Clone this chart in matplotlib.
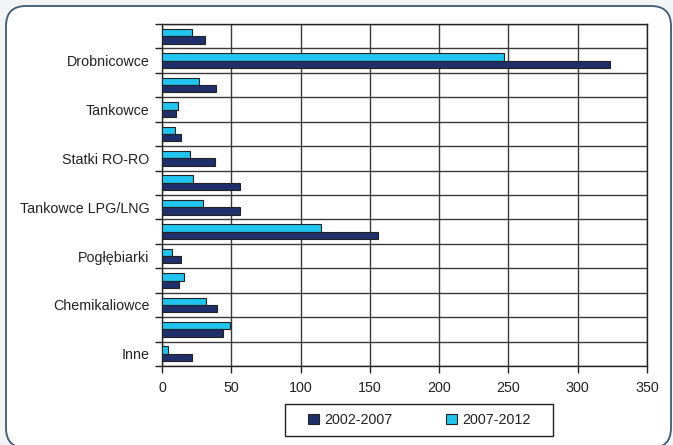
import numpy as np
import matplotlib
matplotlib.use("Agg")
import matplotlib.pyplot as plt
from matplotlib.patches import FancyBboxPatch, Patch, Rectangle
from matplotlib.transforms import IdentityTransform

plt.rcParams['font.family'] = ['Liberation Sans', 'DejaVu Sans']

# rows from top to bottom; only every other row carries a label
labels = ['', 'Drobnicowce', '', 'Tankowce', '', 'Statki RO-RO', '',
          'Tankowce LPG/LNG', '', 'Pogłębiarki', '', 'Chemikaliowce', '', 'Inne']
vals_2002_2007 = [31, 323, 39, 10, 14, 38, 56, 56, 156, 14, 12.5, 40, 44, 22]
vals_2007_2012 = [21.5, 247, 26.5, 11.5, 9.5, 20, 22.5, 29.5, 115, 7.5, 16, 32, 49, 4.5]
series_names = ['2002-2007', '2007-2012']
dark = '#1f2f6b'
light = '#1fc4ef'
txt = '#222222'

fig = plt.figure(figsize=(6.73, 4.45), dpi=100)
fig.patch.set_facecolor('#f2f4f5')

# rounded outer frame, in pixels
frame = FancyBboxPatch((6, -3), 665, 442, boxstyle="round,pad=0,rounding_size=20",
                       transform=IdentityTransform(), facecolor='white',
                       edgecolor='#3d5a73', linewidth=1.3, zorder=-5)
fig.patches.append(frame)

ax = fig.add_axes([0.2407, 0.1775, 0.7207, 0.7685])
ax.set_zorder(2)
ax.set_facecolor('white')

y = np.arange(len(labels))
h = 0.3
ax.barh(y - h / 2, vals_2007_2012, height=h, color=light, edgecolor='#222222',
        linewidth=0.8, zorder=3)
ax.barh(y + h / 2, vals_2002_2007, height=h, color=dark, edgecolor='#222222',
        linewidth=0.8, zorder=3)

ax.set_xlim(0, 350)
ax.set_ylim(len(labels) - 0.5, -0.5)
ax.set_xticks(np.arange(0, 351, 50))
ax.set_yticks(np.arange(-0.5, len(labels), 1.0))
ax.set_yticklabels([])
ax.set_yticks(y, minor=True)
ax.set_yticklabels(labels, minor=True, fontsize=10.3, color=txt)
ax.tick_params(axis='y', which='minor', length=0, pad=9)
ax.tick_params(axis='y', which='major', length=5, width=1, color='#222222')
ax.tick_params(axis='x', length=5, width=1, color='#222222', labelsize=10.3,
               labelcolor=txt, pad=6)
ax.grid(True, which='major', color='#3a3a3a', linewidth=1.0, zorder=0)
ax.set_axisbelow(True)
for s in ax.spines.values():
    s.set_color('#222222')
    s.set_linewidth(1.0)

# legend box drawn separately so its padding matches the original
box = Rectangle((285, 9), 268, 32, transform=IdentityTransform(), facecolor='white',
                edgecolor='#222222', linewidth=1.0, zorder=3)
fig.patches.append(box)
handles = [Patch(facecolor=dark, edgecolor='#222222', linewidth=0.8),
           Patch(facecolor=light, edgecolor='#222222', linewidth=0.8)]
leg = fig.legend(handles, series_names, loc='center', bbox_to_anchor=(0.6232, 0.0564),
                 ncol=2, fontsize=10.3, frameon=False, labelcolor=txt,
                 handlelength=0.75, handleheight=0.75, handletextpad=0.4,
                 columnspacing=3.7, borderpad=0.3, borderaxespad=0)
leg.set_zorder(4)

fig.savefig('out.png', dpi=100, facecolor=fig.get_facecolor())
